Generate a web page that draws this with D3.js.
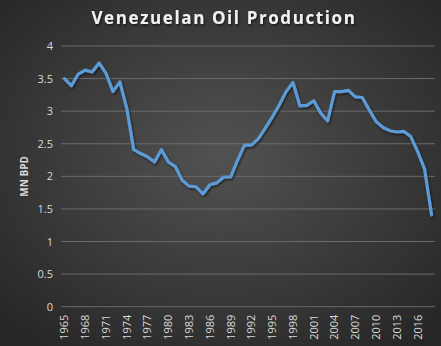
<!DOCTYPE html>
<html>
<head>
<meta charset="utf-8">
<script src="https://cdn.jsdelivr.net/npm/d3@7/dist/d3.min.js"></script>
<style>
  html, body { margin: 0; padding: 0; background: #333; }
  svg { display: block; }
</style>
</head>
<body>
<svg id="chart" width="441" height="346"></svg>
<script>
// Venezuelan crude oil production, million barrels per day
const years = d3.range(1965, 2019);
const production = [
  3.50, 3.39, 3.57, 3.63, 3.60, 3.74, 3.58, 3.30, 3.45, 3.04,
  2.41, 2.35, 2.30, 2.22, 2.41, 2.22, 2.15, 1.94, 1.85, 1.84,
  1.73, 1.87, 1.90, 1.99, 1.99, 2.25, 2.48, 2.48, 2.58, 2.74,
  2.91, 3.09, 3.30, 3.44, 3.08, 3.09, 3.16, 2.97, 2.85, 3.30,
  3.30, 3.32, 3.22, 3.21, 3.02, 2.84, 2.75, 2.70, 2.68, 2.69,
  2.61, 2.38, 2.11, 1.41
];
const yTicks = [0, 0.5, 1, 1.5, 2, 2.5, 3, 3.5, 4];
const xTickYears = d3.range(1965, 2019, 3);

const W = 441, H = 346;
const svg = d3.select("#chart");
const defs = svg.append("defs");

// Background radial gradient
const bg = defs.append("radialGradient").attr("id", "bg")
  .attr("cx", "50%").attr("cy", "45%").attr("r", "70%");
bg.append("stop").attr("offset", "0%").attr("stop-color", "#525252");
bg.append("stop").attr("offset", "100%").attr("stop-color", "#262626");
svg.append("rect").attr("width", W).attr("height", H).attr("fill", "url(#bg)");

const shadow = defs.append("filter").attr("id", "shadow")
  .attr("x", "-10%").attr("y", "-10%").attr("width", "120%").attr("height", "130%");
shadow.append("feDropShadow").attr("dx", 1).attr("dy", 1.5)
  .attr("stdDeviation", 1.2).attr("flood-color", "#000").attr("flood-opacity", 0.6);

const plot = { left: 61, right: 435, top: 46, bottom: 306.7 };

const x = d3.scaleBand().domain(years).range([plot.left, plot.right]);
const y = d3.scaleLinear().domain([0, 4]).range([plot.bottom, plot.top]);

// Gridlines
svg.append("g").selectAll("line").data(yTicks).join("line")
  .attr("x1", plot.left).attr("x2", plot.right)
  .attr("y1", d => y(d)).attr("y2", d => y(d))
  .attr("stroke", "#6b6b6b").attr("stroke-width", 1);

// Y axis labels
const yAxis = svg.append("g")
  .attr("transform", `translate(${plot.left - 8},0)`)
  .call(d3.axisLeft(y).tickValues(yTicks).tickSize(0).tickPadding(0).tickFormat(d3.format("")));
yAxis.select(".domain").remove();
yAxis.selectAll("text")
  .attr("fill", "#d9d9d9").attr("font-size", 11)
  .attr("font-family", "'Open Sans', 'DejaVu Sans', sans-serif");

// X axis labels (rotated)
const xAxis = svg.append("g")
  .attr("transform", `translate(0,${plot.bottom})`)
  .call(d3.axisBottom(x).tickValues(xTickYears).tickSize(0).tickFormat(d3.format("d")));
xAxis.select(".domain").remove();
xAxis.selectAll("text")
  .attr("fill", "#d9d9d9").attr("font-size", 11)
  .attr("font-family", "'Open Sans', 'DejaVu Sans', sans-serif")
  .attr("transform", "rotate(-90)")
  .attr("text-anchor", "end")
  .attr("x", -8).attr("y", 0).attr("dy", "0.35em");

// Axis title
svg.append("text")
  .attr("transform", `translate(28,${(plot.top + plot.bottom) / 2}) rotate(-90)`)
  .attr("text-anchor", "middle")
  .attr("fill", "#d9d9d9").attr("font-size", 10).attr("font-weight", "bold")
  .attr("font-family", "'Open Sans', 'DejaVu Sans', sans-serif")
  .text("MN BPD");

// Production line
const line = d3.line()
  .x((d, i) => x(years[i]) + x.bandwidth() / 2)
  .y(d => y(d));
svg.append("path")
  .datum(production)
  .attr("d", line)
  .attr("fill", "none")
  .attr("stroke", "#5b9bd5")
  .attr("stroke-width", 3.2)
  .attr("stroke-linejoin", "round")
  .attr("stroke-linecap", "round")
  .attr("filter", "url(#shadow)");

// Title
svg.append("text")
  .attr("x", 224).attr("y", 24)
  .attr("text-anchor", "middle")
  .attr("fill", "#f2f2f2").attr("font-size", 17).attr("font-weight", "bold")
  .attr("font-family", "'Open Sans', 'DejaVu Sans', sans-serif")
  .attr("letter-spacing", 1.6)
  .attr("filter", "url(#shadow)")
  .text("Venezuelan Oil Production");
</script>
</body>
</html>
